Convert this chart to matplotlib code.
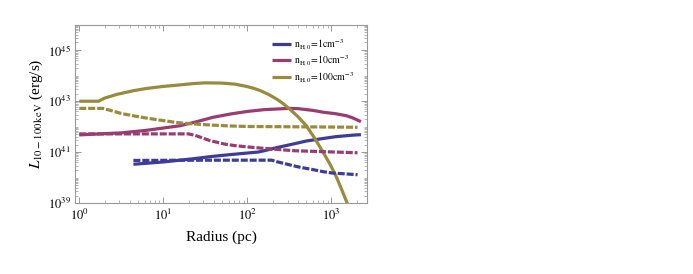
import numpy as np
import matplotlib
matplotlib.use("Agg")
import matplotlib.pyplot as plt
from matplotlib.ticker import FixedLocator, NullFormatter

plt.rcParams['font.family'] = ['Liberation Serif', 'DejaVu Serif']
plt.rcParams['mathtext.fontset'] = 'stix'

# Data: log10(radius/pc), log10(L / erg s^-1)
gold_solid_logr = [0.0, 0.23, 0.30, 0.45, 0.64, 0.8, 1.0, 1.2, 1.35, 1.5, 1.7, 1.85, 1.99, 2.07, 2.15, 2.25, 2.35, 2.42, 2.5, 2.6, 2.70, 2.8, 2.90, 2.98, 3.06, 3.12, 3.19]
gold_solid_logL = [43.0, 43.0, 43.12, 43.27, 43.41, 43.5, 43.58, 43.64, 43.69, 43.72, 43.71, 43.67, 43.58, 43.51, 43.42, 43.27, 43.08, 42.92, 42.7, 42.4, 42.04, 41.55, 41.0, 40.55, 40.02, 39.55, 38.98]

gold_dash_logr = [0.0, 0.28, 0.35, 0.5, 0.64, 0.8, 1.0, 1.15, 1.28, 1.45, 1.6, 1.8, 2.0, 2.5, 3.31]
gold_dash_logL = [42.72, 42.72, 42.66, 42.52, 42.43, 42.34, 42.24, 42.17, 42.13, 42.09, 42.06, 42.03, 42.01, 42.0, 41.98]

mag_solid_logr = [0.0, 0.5, 0.8, 1.0, 1.2, 1.4, 1.59, 1.8, 2.0, 2.2, 2.38, 2.5, 2.6, 2.78, 2.9, 3.05, 3.18, 3.25, 3.35]
mag_solid_logL = [41.68, 41.76, 41.86, 41.95, 42.04, 42.2, 42.37, 42.5, 42.6, 42.67, 42.7, 42.72, 42.71, 42.64, 42.57, 42.51, 42.43, 42.35, 42.2]

mag_dash_logr = [0.0, 1.30, 1.38, 1.45, 1.55, 1.73, 1.85, 2.0, 2.21, 2.4, 2.56, 3.31]
mag_dash_logL = [41.72, 41.72, 41.66, 41.58, 41.46, 41.32, 41.26, 41.21, 41.15, 41.1, 41.06, 40.98]

blue_solid_logr = [0.644, 1.0, 1.34, 1.59, 1.8, 2.0, 2.13, 2.2, 2.36, 2.54, 2.7, 2.9, 3.05, 3.18, 3.25, 3.35]
blue_solid_logL = [40.53, 40.62, 40.74, 40.84, 40.91, 40.97, 41.01, 41.06, 41.19, 41.32, 41.44, 41.54, 41.61, 41.65, 41.67, 41.69]

blue_dash_logr = [0.644, 1.5, 2.29, 2.35, 2.5, 2.6, 2.78, 2.9, 3.0, 3.18, 3.31]
blue_dash_logL = [40.68, 40.69, 40.69, 40.63, 40.51, 40.43, 40.32, 40.24, 40.19, 40.15, 40.12]

labels = [r'$\mathrm{n_{H,0}\!=\!1cm^{-3}}$',
          r'$\mathrm{n_{H,0}\!=\!10cm^{-3}}$',
          r'$\mathrm{n_{H,0}\!=\!100cm^{-3}}$']

c_blue = (0.24, 0.24, 0.6)
c_mag = (0.6, 0.24, 0.4428)
c_gold = (0.6, 0.547, 0.24)

fig = plt.figure(figsize=(6.93, 2.74), dpi=100)
ax = fig.add_axes([0.1082, 0.258, 0.4215, 0.652])

def p(lr, lL):
    return 10 ** np.array(lr), 10 ** np.array(lL)

lw = 2.3
dash = (2.2, 0.6)
ax.plot(*p(blue_solid_logr, blue_solid_logL), color=c_blue, lw=lw, label=labels[0], solid_capstyle='butt', solid_joinstyle='round')
ax.plot(*p(mag_solid_logr, mag_solid_logL), color=c_mag, lw=lw, label=labels[1], solid_capstyle='butt', solid_joinstyle='round')
ax.plot(*p(gold_solid_logr, gold_solid_logL), color=c_gold, lw=lw, label=labels[2], solid_capstyle='butt', solid_joinstyle='round')
ax.plot(*p(blue_dash_logr, blue_dash_logL), color=c_blue, lw=lw, dashes=dash, dash_capstyle='butt')
ax.plot(*p(mag_dash_logr, mag_dash_logL), color=c_mag, lw=lw, dashes=dash, dash_capstyle='butt')
ax.plot(*p(gold_dash_logr, gold_dash_logL), color=c_gold, lw=lw, dashes=dash, dash_capstyle='butt')

ax.set_xscale('log')
ax.set_yscale('log')
ax.set_xlim(0.89, 2650)
ax.set_ylim(1e39, 1e46)

ax.yaxis.set_major_locator(FixedLocator([1e39, 1e41, 1e43, 1e45]))
yminor = [m * 10.0 ** e for e in range(39, 46) for m in range(1, 10) if not (m == 1 and e in (39, 41, 43, 45))]
ax.yaxis.set_minor_locator(FixedLocator(yminor))
ax.yaxis.set_minor_formatter(NullFormatter())
ax.set_yticklabels([r'$10^{39}$', r'$10^{41}$', r'$10^{43}$', r'$10^{45}$'])

ax.xaxis.set_major_locator(FixedLocator([1, 10, 100, 1000]))
ax.set_xticklabels([r'$10^{0}$', r'$10^{1}$', r'$10^{2}$', r'$10^{3}$'])
xminor = [m * 10.0 ** e for e in range(0, 4) for m in range(2, 10)]
ax.xaxis.set_minor_locator(FixedLocator(xminor))
ax.xaxis.set_minor_formatter(NullFormatter())

gray = '#999999'
for s in ax.spines.values():
    s.set_color(gray)
    s.set_linewidth(0.8)
ax.tick_params(which='both', direction='in', color=gray, top=True, right=True, labelsize=9, pad=3)
ax.tick_params(which='major', length=4, width=0.7)
ax.tick_params(which='minor', length=2, width=0.5)

ax.set_xlabel('Radius (pc)', fontsize=11, labelpad=6)
ax.set_ylabel(r'$L_{10-100\,\mathrm{keV}}$ (erg/s)', fontsize=11, labelpad=2)

ax.legend(loc='upper left', bbox_to_anchor=(0.675, 0.93), frameon=False, fontsize=7,
          handlelength=1.9, handletextpad=0.3, labelspacing=0.15, borderaxespad=0, borderpad=0)

fig.savefig('out.png', dpi=100)
